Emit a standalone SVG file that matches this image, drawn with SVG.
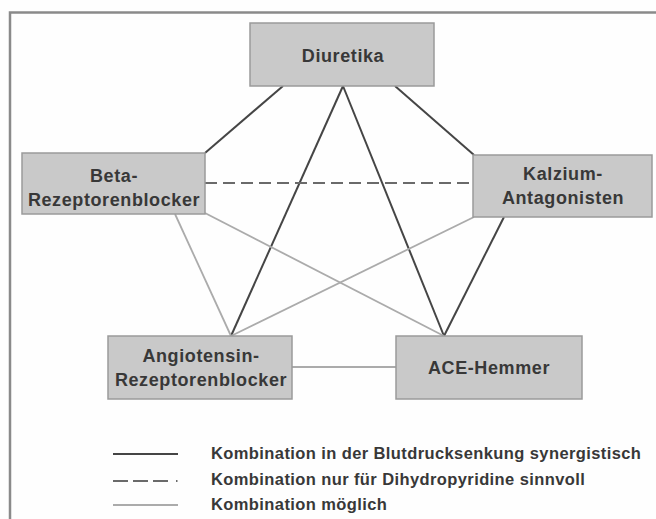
<svg xmlns="http://www.w3.org/2000/svg" width="656" height="519" viewBox="0 0 656 519">
<style>
.box{fill:#c9c9c9;stroke:#9a9a9a;stroke-width:1.5}
.lbl{font-family:"Liberation Sans",Arial,sans-serif;font-weight:bold;font-size:18px;letter-spacing:0.6px;fill:#383838;text-anchor:middle}
.leg{font-family:"Liberation Sans",Arial,sans-serif;font-weight:bold;font-size:16.5px;letter-spacing:0.4px;fill:#383838}
.syn{stroke:#454545;stroke-width:2;fill:none}
.dash{stroke:#6a6a6a;stroke-width:2;stroke-dasharray:12 6;fill:none}
.pos{stroke:#ababab;stroke-width:1.8;fill:none}
</style>
<rect width="656" height="519" fill="#fefefe"/>
<path d="M10 519 V12.5 H656" fill="none" stroke="#8a8a8a" stroke-width="2.5"/>
<g id="connectors">
<line class="syn" x1="283" y1="86" x2="205" y2="153"/>
<line class="syn" x1="395" y1="86" x2="474" y2="155"/>
<line class="syn" x1="343" y1="86" x2="231" y2="336"/>
<line class="syn" x1="343" y1="86" x2="444" y2="336"/>
<line class="syn" x1="504" y1="217" x2="444" y2="336"/>
<line class="dash" x1="205" y1="183" x2="473" y2="183"/>
<line class="pos" x1="175" y1="214" x2="231" y2="336"/>
<line class="pos" x1="205" y1="213" x2="444" y2="336"/>
<line class="pos" x1="474" y1="217" x2="231" y2="336"/>
<line class="pos" x1="292" y1="367" x2="396" y2="367"/>
</g>
<g id="node-diuretika">
<rect class="box" x="250" y="23" width="184" height="63"/>
<text class="lbl" x="343" y="62">Diuretika</text>
</g>
<g id="node-beta">
<rect class="box" x="22" y="153" width="183" height="61"/>
<text class="lbl" x="114" y="182">Beta-</text>
<text class="lbl" x="114" y="206">Rezeptorenblocker</text>
</g>
<g id="node-kalzium">
<rect class="box" x="473" y="155" width="179" height="62"/>
<text class="lbl" x="563" y="180">Kalzium-</text>
<text class="lbl" x="563" y="204">Antagonisten</text>
</g>
<g id="node-angiotensin">
<rect class="box" x="108" y="336" width="184" height="63"/>
<text class="lbl" x="201" y="362">Angiotensin-</text>
<text class="lbl" x="201" y="386">Rezeptorenblocker</text>
</g>
<g id="node-ace">
<rect class="box" x="396" y="336" width="186" height="63"/>
<text class="lbl" x="489" y="374">ACE-Hemmer</text>
</g>
<g id="legend">
<line class="syn" x1="113" y1="454" x2="178" y2="454" stroke-width="2.5"/>
<line x1="113" y1="481" x2="178" y2="481" stroke="#6a6a6a" stroke-width="2" stroke-dasharray="15 5 15 5 15 8 1.5 10"/>
<line class="pos" x1="113" y1="505" x2="178" y2="505"/>
<text class="leg" x="211" y="459">Kombination in der Blutdrucksenkung synergistisch</text>
<text class="leg" x="211" y="485">Kombination nur für Dihydropyridine sinnvoll</text>
<text class="leg" x="211" y="510">Kombination möglich</text>
</g>
</svg>
